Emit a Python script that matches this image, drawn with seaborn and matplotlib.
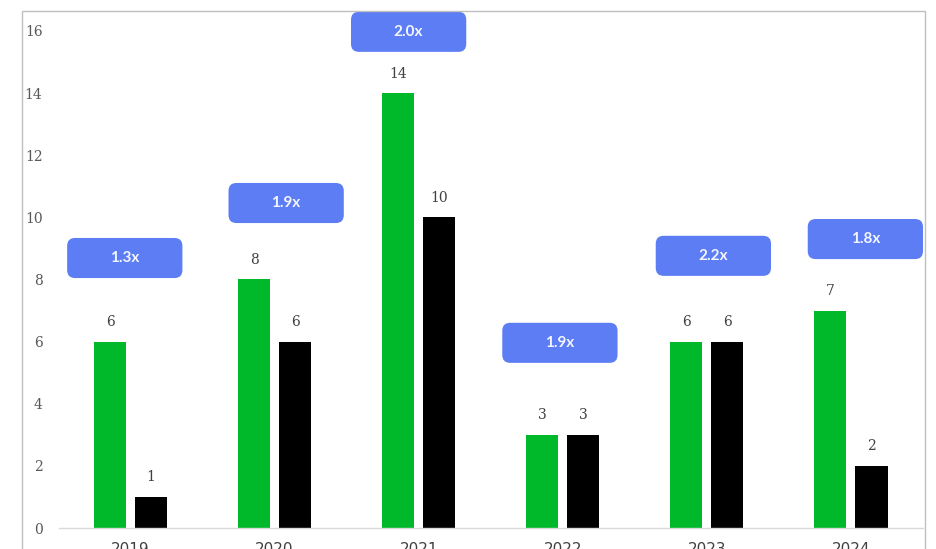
import numpy as np
import pandas as pd
import matplotlib
matplotlib.use('Agg')
import matplotlib.pyplot as plt
from matplotlib.patches import FancyBboxPatch, Rectangle
import seaborn as sns

# values
years = ['2019', '2020', '2021', '2022', '2023', '2024']
green_vals = [6, 8, 14, 3, 6, 7]
black_vals = [1, 6, 10, 3, 6, 2]
ratios = ['1.3x', '1.9x', '2.0x', '1.9x', '2.2x', '1.8x']

# where the ratio boxes sit (layout only)
box_dx = [-0.04, 0.08, -0.07, -0.02, 0.045, 0.10]
box_y = [8.69, 10.46, 15.97, 5.96, 8.76, 9.3]

df = pd.DataFrame({
    'year': years * 2,
    'value': green_vals + black_vals,
    'series': ['A'] * len(years) + ['B'] * len(years),
})

sns.set_style('white')
plt.rcParams['font.family'] = ['DejaVu Sans']

W, H = 936, 549
fig = plt.figure(figsize=(W / 100, H / 100), dpi=100)
ax = fig.add_axes([58.5 / W, 21 / H, (923 - 58.5) / W, (528 - 11) / H])

sns.barplot(data=df, x='year', y='value', hue='series',
            palette=['#00B92A', '#000000'], width=0.57, gap=0.22,
            legend=False, ax=ax, saturation=1, linewidth=0)

for c in ax.containers:
    ax.bar_label(c, fmt='%g', padding=9, color='#404040', fontsize=10,
                 family='DejaVu Serif')

ax.set_xlim(-0.5, 5.5)
ax.set_ylim(0, 16.64)
ax.set_yticks(np.arange(0, 17, 2))
ax.set_xlabel('')
ax.set_ylabel('')
for s in ['top', 'right', 'left']:
    ax.spines[s].set_visible(False)
ax.spines['bottom'].set_color('#D9D9D9')
ax.spines['bottom'].set_linewidth(1)
ax.tick_params(axis='y', length=0, pad=11.5, labelsize=10, labelcolor='#595959')
ax.tick_params(axis='x', length=0, pad=10, labelsize=11, labelcolor='#404040')
for lab in ax.get_yticklabels():
    lab.set_family('DejaVu Serif')

# ratio boxes
bw, bh = 0.8, 1.29
aspect = (1 / 31.06) / (1 / 144.0)
for i, (r, dx, yc) in enumerate(zip(ratios, box_dx, box_y)):
    xc = i + dx
    p = FancyBboxPatch((xc - bw / 2, yc - bh / 2), bw, bh,
                       boxstyle='round,pad=0,rounding_size=0.055',
                       mutation_aspect=aspect, facecolor='#5D7DF4',
                       edgecolor='none', clip_on=False, zorder=5)
    ax.add_patch(p)
    ax.text(xc, yc, r, ha='center', va='center', color='#F4F6FF',
            fontsize=11, family='Lato', fontweight='bold', zorder=6, clip_on=False)

# outer chart frame (screenshot border)
fig.add_artist(Rectangle((22 / W, -0.05), (925 - 22) / W, 1.05 - 11 / H,
                         transform=fig.transFigure, fill=False,
                         edgecolor='#BFBFBF', linewidth=1))

fig.savefig('out.png', dpi=100)
